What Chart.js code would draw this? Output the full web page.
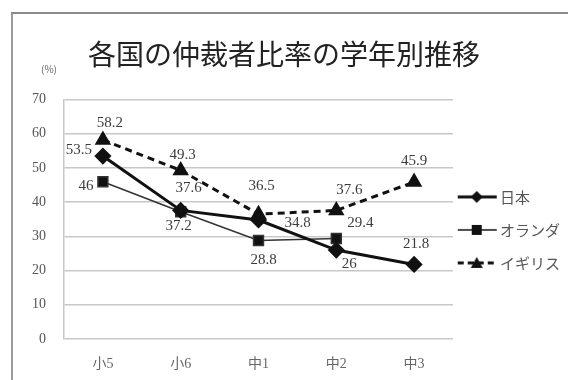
<!DOCTYPE html>
<html>
<head>
<meta charset="utf-8">
<script src="https://cdn.jsdelivr.net/npm/chart.js@4.4.1/dist/chart.umd.min.js"></script>
<style>
  body { margin: 0; background: #fff; }
  #wrap { position: relative; width: 568px; height: 380px; overflow: hidden; }
  #frame {
    position: absolute; left: 11px; top: 12px; width: 700px; height: 500px;
    border-left: 2px solid #9a9a9a; border-top: 2px solid #8a8a8a;
  }
  canvas { position: absolute; left: 0; top: 0; }
</style>
</head>
<body>
<div id="wrap">
  <div id="frame"></div>
  <canvas id="chart" width="568" height="380"></canvas>
</div>
<script>
const grades = ["小5", "小6", "中1", "中2", "中3"];
const japan = [53.5, 37.6, 34.8, 26, 21.8];
const netherlands = [46, 37.2, 28.8, 29.4, null];
const britain = [58.2, 49.3, 36.5, 37.6, 45.9];
const yTicks = [0, 10, 20, 30, 40, 50, 60, 70];

// where each value label sits relative to its point (px)
const japanLabelPos = [[-24, -6], [8, -22], [39, 3], [13, 14], [2, -20]];
const netherlandsLabelPos = [[-17, 4], [-2, 14], [5, 20], [24, -15], null];
const britainLabelPos = [[7, -17], [2, -15], [3, -28], [13, -20], [0, -21]];

const serif = "'Liberation Serif', 'Noto Sans CJK JP', serif";
const jp = "'Noto Sans CJK JP', sans-serif";

// small line + marker images for the legend
function legendIcon(drawMarker, width, dash) {
  const c = document.createElement("canvas");
  c.width = 50;
  c.height = 16;
  const g = c.getContext("2d");
  g.strokeStyle = "#111";
  g.fillStyle = "#111";
  g.lineWidth = width;
  g.setLineDash(dash);
  g.beginPath();
  g.moveTo(1, 8);
  g.lineTo(40, 8);
  g.stroke();
  g.setLineDash([]);
  drawMarker(g, 20, 8);
  return c;
}
const icons = [
  legendIcon((g, x, y) => {
    g.beginPath();
    g.moveTo(x, y - 6); g.lineTo(x + 6, y); g.lineTo(x, y + 6); g.lineTo(x - 6, y);
    g.closePath(); g.fill();
  }, 3, []),
  legendIcon((g, x, y) => { g.fillRect(x - 5, y - 5, 10, 10); }, 1.5, []),
  legendIcon((g, x, y) => {
    g.beginPath();
    g.moveTo(x, y - 6); g.lineTo(x + 6, y + 5); g.lineTo(x - 6, y + 5);
    g.closePath(); g.fill();
  }, 3, [6, 4]),
];

const valueLabels = {
  id: "valueLabels",
  afterDatasetsDraw(chart) {
    const ctx = chart.ctx;
    const positions = [japanLabelPos, netherlandsLabelPos, britainLabelPos];
    ctx.save();
    ctx.font = "15px " + serif;
    ctx.fillStyle = "#3c3c3c";
    ctx.textAlign = "center";
    ctx.textBaseline = "middle";
    chart.data.datasets.forEach((ds, i) => {
      const meta = chart.getDatasetMeta(i);
      ds.data.forEach((v, j) => {
        if (v === null) return;
        const pt = meta.data[j];
        const off = positions[i][j];
        ctx.fillText(String(v), pt.x + off[0], pt.y + off[1]);
      });
    });
    // unit above the y axis
    const area = chart.chartArea;
    ctx.font = "10px " + jp;
    ctx.fillStyle = "#666";
    ctx.fillText("(%)", area.left - 15, area.top - 30);
    ctx.restore();
  },
};

new Chart(document.getElementById("chart"), {
  type: "line",
  data: {
    labels: grades,
    datasets: [
      {
        label: "日本",
        data: japan,
        borderColor: "#111",
        backgroundColor: "#111",
        borderWidth: 3,
        pointStyle: "rectRot",
        pointRadius: 6.5,
        tension: 0,
      },
      {
        label: "オランダ",
        data: netherlands,
        borderColor: "#333",
        backgroundColor: "#111",
        borderWidth: 1.5,
        pointStyle: "rect",
        pointRadius: 7,
        tension: 0,
      },
      {
        label: "イギリス",
        data: britain,
        borderColor: "#111",
        backgroundColor: "#111",
        borderWidth: 3,
        borderDash: [7, 5],
        pointStyle: "triangle",
        pointRadius: 6.5,
        tension: 0,
      },
    ],
  },
  options: {
    responsive: false,
    animation: false,
    layout: { padding: 0 },
    scales: {
      x: {
        offset: true,
        grid: { display: false, drawTicks: false },
        border: { display: false },
        ticks: { padding: 17, color: "#666", font: { size: 14, family: serif } },
        afterFit: (scale) => { scale.height = 41; },
      },
      y: {
        min: 0,
        max: 70,
        afterBuildTicks: (scale) => { scale.ticks = yTicks.map((v) => ({ value: v })); },
        grid: { color: "#c8c8c8", lineWidth: 1.5, drawTicks: false },
        border: { display: true, color: "#c8c8c8", width: 1.5 },
        ticks: { padding: 18, color: "#555", font: { size: 14, family: serif } },
        afterFit: (scale) => { scale.width = 64; },
      },
    },
    plugins: {
      title: {
        display: true,
        text: "各国の仲裁者比率の学年別推移",
        color: "#222",
        font: { size: 28, family: jp, weight: "normal" },
        padding: { top: 38, bottom: 28 },
      },
      legend: {
        position: "right",
        fullSize: false,
        maxWidth: 115,
        title: { display: true, text: " ", font: { size: 1 }, padding: { top: 20, bottom: 0 } },
        labels: {
          usePointStyle: true,
          pointStyleWidth: 21.5,
          padding: 18,
          color: "#555",
          font: { size: 15, family: jp },
          generateLabels: (chart) => {
            const items = Chart.defaults.plugins.legend.labels.generateLabels(chart);
            items.forEach((item, i) => { item.pointStyle = icons[i]; });
            return items;
          },
        },
      },
      tooltip: { enabled: false },
    },
  },
  plugins: [valueLabels],
});
</script>
</body>
</html>
